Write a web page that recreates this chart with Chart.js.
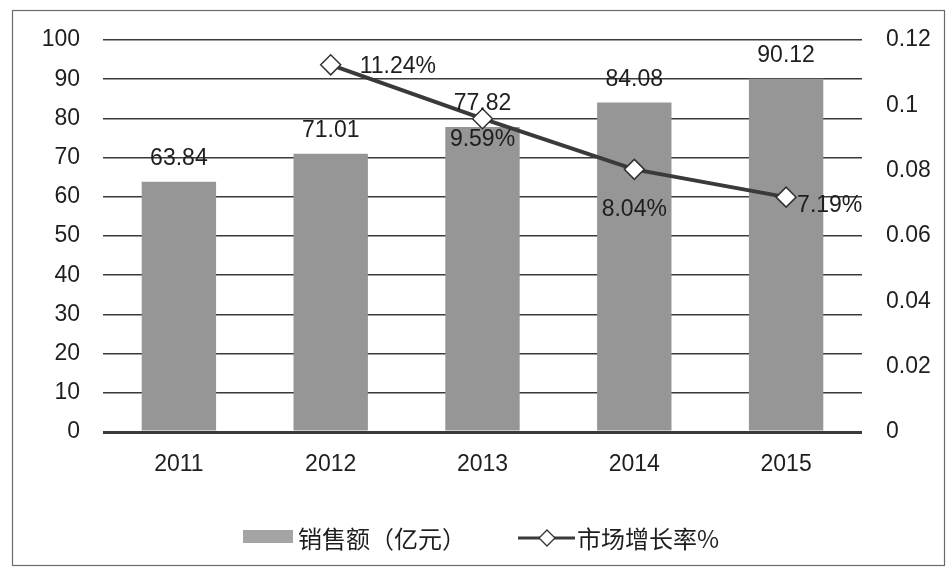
<!DOCTYPE html>
<html><head><meta charset="utf-8">
<script src="https://cdn.jsdelivr.net/npm/chart.js@4/dist/chart.umd.min.js"></script>
<style>html,body{margin:0;padding:0;background:#fff}#wrap{width:951px;height:575px;position:relative}</style>
</head><body><div id="wrap"><canvas id="c" width="951" height="575"></canvas></div>
<script>
const categories = ['2011', '2012', '2013', '2014', '2015'];
const salesValues = [63.84, 71.01, 77.82, 84.08, 90.12];
const growthRates = [null, 0.1124, 0.0959, 0.0804, 0.0719];
const leftTickValues = [0, 10, 20, 30, 40, 50, 60, 70, 80, 90, 100];
const rightTickLabels = ['0', '0.02', '0.04', '0.06', '0.08', '0.1', '0.12'];
const seriesNames = ['销售额（亿元）', '市场增长率%'];

const FONT = '"Liberation Sans", Arial, sans-serif';
const CJK = '"Noto Sans CJK SC", "Liberation Sans", sans-serif';
const TEXT = '#1e1e1e';
const BAR = '#969696';
const LINE = '#3a3a3a';
const FS = 23;

const decorPlugin = {
  id: 'decor',
  beforeDraw(chart) {
    const ctx = chart.ctx;
    ctx.save();
    ctx.fillStyle = '#fff';
    ctx.fillRect(0, 0, chart.width, chart.height);
    ctx.strokeStyle = '#6a6a6a';
    ctx.lineWidth = 1.2;
    ctx.strokeRect(12.5, 10.5, 932, 555);
    ctx.restore();
  },
  afterDatasetsDraw(chart, args, opts) {
    const ctx = chart.ctx;
    ctx.save();
    ctx.fillStyle = TEXT;
    ctx.font = FS + 'px ' + FONT;
    ctx.textAlign = 'center';
    ctx.textBaseline = 'middle';
    const barMeta = chart.getDatasetMeta(0);
    barMeta.data.forEach((el, i) => {
      ctx.fillText(salesValues[i].toFixed(2), el.x, el.y - 23);
    });
    const lineMeta = chart.getDatasetMeta(1);
    lineMeta.data.forEach((el, i) => {
      if (growthRates[i] == null) return;
      const p = opts.lineLabelOffsets[i];
      ctx.textAlign = p[2];
      ctx.fillText((growthRates[i] * 100).toFixed(2) + '%', el.x + p[0], el.y + p[1]);
    });
    ctx.restore();
  },
  afterDraw(chart) {
    const ctx = chart.ctx;
    const ds = chart.data.datasets;
    ctx.save();
    // bar legend
    ctx.fillStyle = '#a4a4a4';
    ctx.fillRect(243, 530, 50, 13);
    ctx.fillStyle = TEXT;
    ctx.font = '24px ' + CJK;
    ctx.textAlign = 'left';
    ctx.textBaseline = 'middle';
    ctx.fillText(ds[0].label, 298, 539);
    // line legend
    ctx.strokeStyle = ds[1].borderColor;
    ctx.lineWidth = 3;
    ctx.beginPath();
    ctx.moveTo(518, 538); ctx.lineTo(575, 538); ctx.stroke();
    ctx.fillStyle = '#fff';
    ctx.strokeStyle = '#333';
    ctx.lineWidth = 1.3;
    ctx.beginPath();
    ctx.moveTo(547, 530); ctx.lineTo(555, 538); ctx.lineTo(547, 546); ctx.lineTo(539, 538); ctx.closePath();
    ctx.fill(); ctx.stroke();
    ctx.fillStyle = TEXT;
    ctx.fillText(ds[1].label, 577, 539);
    ctx.restore();
  }
};

new Chart(document.getElementById('c'), {
  data: {
    labels: categories,
    datasets: [
      {
        type: 'bar', label: seriesNames[0], data: salesValues, yAxisID: 'y',
        backgroundColor: BAR, borderWidth: 0,
        categoryPercentage: 1, barPercentage: 0.49, order: 1
      },
      {
        type: 'line', label: seriesNames[1], data: growthRates, yAxisID: 'y1',
        borderColor: LINE, borderWidth: 4, tension: 0,
        pointStyle: 'rectRot', pointRadius: 10, pointBackgroundColor: '#fff',
        pointBorderColor: '#333', pointBorderWidth: 1.5, order: 0
      }
    ]
  },
  options: {
    responsive: false,
    animation: false,
    layout: { padding: { top: 40, left: 0, right: 0, bottom: 0 } },
    plugins: {
      legend: { display: false },
      tooltip: { enabled: false },
      decor: { lineLabelOffsets: [null, [29, 2, 'left'], [0, 21, 'center'], [0, 40, 'center'], [11, 9, 'left']] }
    },
    scales: {
      x: {
        grid: { display: false, drawTicks: false },
        border: { display: false },
        ticks: { color: TEXT, font: { family: FONT, size: FS }, padding: 19 },
        afterFit(s) { s.height = 143; }
      },
      y: {
        position: 'left', min: 0, max: 100,
        afterBuildTicks(s) { s.ticks = leftTickValues.map(v => ({ value: v })); },
        grid: {
          drawTicks: false, color: '#3a3a3a',
          lineWidth: ctx => (ctx.tick && ctx.tick.value === 0 ? 3 : 1.5)
        },
        border: { display: false },
        ticks: { color: TEXT, font: { family: FONT, size: FS }, padding: 23 },
        afterFit(s) { s.width = 103; }
      },
      y1: {
        position: 'right', min: 0, max: 0.12,
        afterBuildTicks(s) { s.ticks = rightTickLabels.map(t => ({ value: parseFloat(t) })); },
        grid: { display: false, drawTicks: false },
        border: { display: false },
        ticks: {
          color: TEXT, font: { family: FONT, size: FS }, padding: 24,
          callback: (v, i) => rightTickLabels[i]
        },
        afterFit(s) { s.width = 89; }
      }
    }
  },
  plugins: [decorPlugin]
});
</script>
</body></html>
